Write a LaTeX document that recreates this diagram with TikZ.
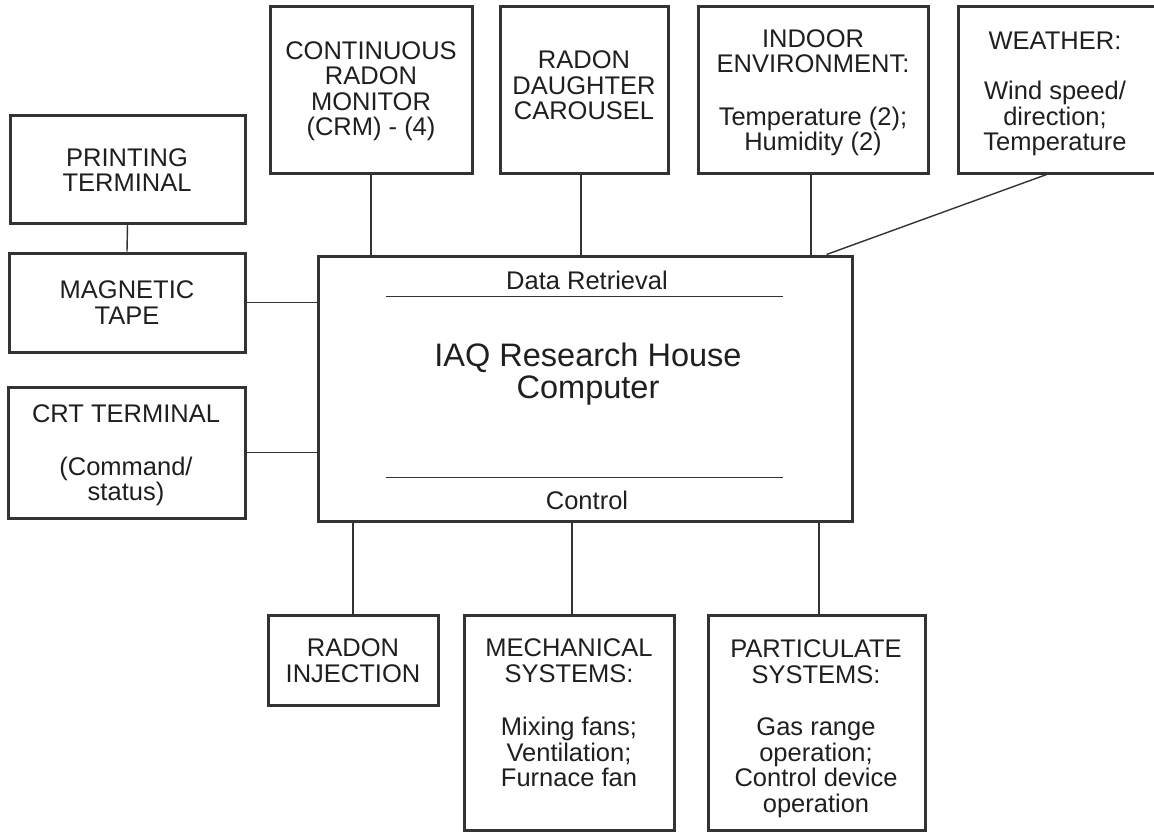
\documentclass[tikz,border=0pt]{standalone}
\usepackage{fontspec}
\setmainfont{Liberation Sans}
\usetikzlibrary{calc}
\newcommand\mystrut{\rule[-0.24em]{0pt}{0.98em}}
\tikzset{
  box/.style={draw=black!80, line width=3pt, rectangle, inner sep=0pt},
  conn/.style={draw=black!80, line width=1.4pt},
  txt/.style={align=center, inner sep=0pt, text=black!88,
    font=\fontsize{25.5}{25.5}\selectfont},
  title/.style={align=center, inner sep=0pt, text=black!88,
    font=\fontsize{32.5}{32}\selectfont}
}
\begin{document}
\begin{tikzpicture}[x=1pt, y=-1pt]
\useasboundingbox (0,0) rectangle (1154,832);
% top row boxes
\node[box, minimum width=202pt, minimum height=166pt] (crm) at (371,90) {};
\node[box, minimum width=168pt, minimum height=166pt] (rdc) at (584,90) {};
\node[box, minimum width=230pt, minimum height=166pt] (ind) at (813,90) {};
\node[box, minimum width=202pt, minimum height=166pt] (wea) at (1059,90) {};
% left column boxes
\node[box, minimum width=235pt, minimum height=107pt] (prt) at (127.5,169.5) {};
\node[box, minimum width=236pt, minimum height=99pt] (mag) at (127,302.5) {};
\node[box, minimum width=237pt, minimum height=131pt] (crt) at (126.5,452.5) {};
% computer
\node[box, minimum width=534pt, minimum height=265pt] (comp) at (585,388.5) {};
% bottom boxes
\node[box, minimum width=170pt, minimum height=90pt] (rin) at (353,660) {};
\node[box, minimum width=210pt, minimum height=215pt] (mec) at (569,722.5) {};
\node[box, minimum width=217pt, minimum height=215pt] (par) at (816.5,722.5) {};

% texts
\node[txt] (crmt) at (371,91.25) {\mystrut CONTINUOUS\\\mystrut RADON\\\mystrut MONITOR\\\mystrut (CRM) - (4)};
\node[txt] (rdct) at (584,87.75) {\mystrut RADON\\\mystrut DAUGHTER\\\mystrut CAROUSEL};
\node[txt] (indt) at (813,92.75) {\mystrut INDOOR\\\mystrut ENVIRONMENT:\\[27pt]\mystrut Temperature (2);\\\mystrut Humidity (2)};
\node[txt] (weat) at (1055,93.75) {\mystrut WEATHER:\\[25pt]\mystrut Wind speed/\\\mystrut direction;\\\mystrut Temperature};
\node[txt] (prtt) at (127,172.75) {\mystrut PRINTING\\\mystrut TERMINAL};
\node[txt] (magt) at (127,305.25) {\mystrut MAGNETIC\\\mystrut TAPE};
\node[txt] (crtt) at (126,455.25) {\mystrut CRT TERMINAL\\[27pt]\mystrut (Command/\\\mystrut status)};
\node[txt] (drt) at (587,282.75) {\mystrut Data Retrieval};
\node[title] (compt) at (588,374.5) {\mystrut IAQ Research House\\\mystrut Computer};
\node[txt] (ctlt) at (587,502.75) {\mystrut Control};
\node[txt] (rint) at (353,663.25) {\mystrut RADON\\\mystrut INJECTION};
\node[txt] (mect) at (569,715.25) {\mystrut MECHANICAL\\\mystrut SYSTEMS:\\[28pt]\mystrut Mixing fans;\\\mystrut Ventilation;\\\mystrut Furnace fan};
\node[txt] (part) at (816,728.75) {\mystrut PARTICULATE\\\mystrut SYSTEMS:\\[27pt]\mystrut Gas range\\\mystrut operation;\\\mystrut Control device\\\mystrut operation};

% internal divider lines of the computer box
\coordinate (drl) at ($(comp.north west)+(69,42)$);
\coordinate (drr) at ($(comp.north west)+(466,42)$);
\coordinate (ctl) at ($(comp.north west)+(69,223)$);
\coordinate (ctr) at ($(comp.north west)+(466,223)$);
\draw[conn] (drl) -- (drr);
\draw[conn] (ctl) -- (ctr);

% connector attachment points
\coordinate (rdcs) at ($(rdc.south)+(-3,0)$);
\coordinate (inds) at ($(ind.south)+(-2,0)$);
\coordinate (mecn) at ($(mec.north)+(3,0)$);
\coordinate (parn) at ($(par.north)+(2.5,0)$);
\coordinate (weaend) at ($(wea.south west)!0.44!(wea.south east)$);
\coordinate (compne) at ($(comp.north east)+(-27,0)$);

% connectors
\draw[conn] (crm.south) -- (crm.south |- comp.north);
\draw[conn] (rdcs) -- (rdcs |- comp.north);
\draw[conn] (inds) -- (inds |- comp.north);
\draw[conn] (weaend) -- (compne);
\draw[conn] (prt.south) -- (mag.north);
\draw[conn] (mag.east) -- (mag.east -| comp.west);
\draw[conn] (crt.east) -- (crt.east -| comp.west);
\draw[conn] (comp.south -| rin.north) -- (rin.north);
\draw[conn] (comp.south -| mecn) -- (mecn);
\draw[conn] (comp.south -| parn) -- (parn);
\end{tikzpicture}
\end{document}
